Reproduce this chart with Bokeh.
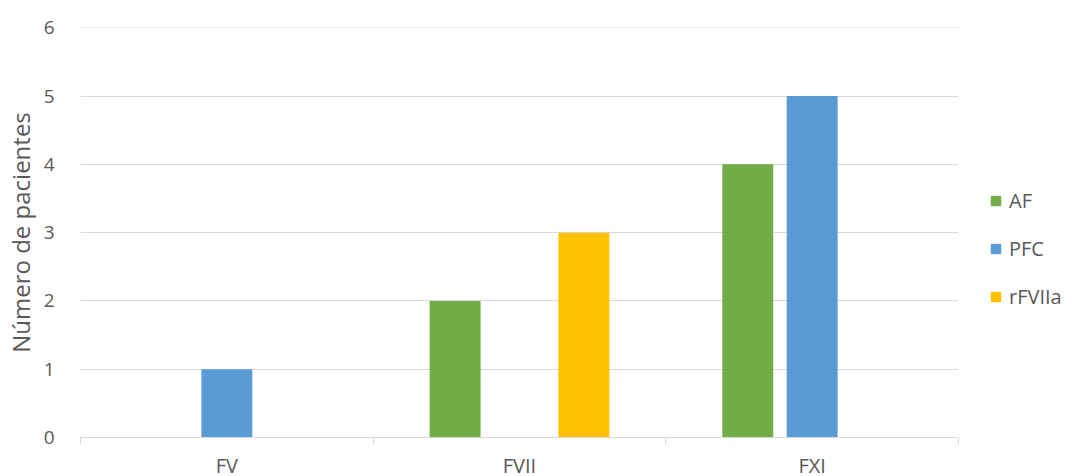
from bokeh.plotting import figure
from bokeh.models import Range1d, FixedTicker, Legend, LegendItem, ColumnDataSource
from bokeh.embed import file_html
from bokeh.resources import INLINE

categories = ["FV", "FVII", "FXI"]
series = ["AF", "PFC", "rFVIIa"]
af = [0, 2, 4]
pfc = [1, 0, 5]
rfviia = [0, 3, 0]
colors = ["#70AD47", "#5B9BD5", "#FFC000"]
offsets = [-0.22, 0.0, 0.22]
FONT = "Open Sans"
GREY = "#595959"

p = figure(frame_width=878, frame_height=410, width=1072, height=476,
           x_range=Range1d(0, 3), y_range=Range1d(0, 6.004),
           output_backend="svg", toolbar_location=None,
           min_border_left=80, min_border_top=27, min_border_bottom=39, min_border_right=10)
p.outline_line_color = None
p.background_fill_color = "white"

items = []
for name, vals, col, off in zip(series, [af, pfc, rfviia], colors, offsets):
    xs = [i + 0.5 + off for i in range(len(categories))]
    src = ColumnDataSource(dict(x=xs, top=vals))
    r = p.vbar(x="x", top="top", width=0.174, source=src, fill_color=col, line_color=None)
    items.append(LegendItem(label=name, renderers=[r]))

legend = Legend(items=items, location=(31, 127))
legend.label_text_font = FONT
legend.label_text_font_size = "20px"
legend.label_text_color = GREY
legend.glyph_width = 13
legend.glyph_height = 13
legend.label_height = 22
legend.spacing = 21
legend.border_line_color = None
legend.background_fill_alpha = 0
legend.padding = 0
legend.margin = 0
legend.label_standoff = 7
p.add_layout(legend, "right")

# x axis
xa = p.xaxis[0]
xa.ticker = FixedTicker(ticks=[0.5, 1.5, 2.5], minor_ticks=[0, 1, 2, 3])
xa.major_label_overrides = {0.5: "FV", 1.5: "FVII", 2.5: "FXI"}
xa.major_tick_line_color = None
xa.major_tick_out = 0
xa.major_tick_in = 0
xa.minor_tick_out = 7
xa.minor_tick_in = 0
xa.minor_tick_line_color = "#d9d9d9"
xa.axis_line_color = "#d9d9d9"
xa.major_label_text_font = FONT
xa.major_label_text_font_size = "20px"
xa.major_label_text_color = GREY
xa.major_label_standoff = 7

# y axis
ya = p.yaxis[0]
ya.ticker = FixedTicker(ticks=[0, 1, 2, 3, 4, 5, 6])
ya.axis_line_color = None
ya.major_tick_line_color = None
ya.minor_tick_line_color = None
ya.major_tick_out = 0
ya.major_tick_in = 0
ya.major_label_text_font = FONT
ya.major_label_text_font_size = "19px"
ya.major_label_text_color = GREY
ya.major_label_standoff = 26
ya.axis_label = "Número de pacientes"
ya.axis_label_text_font = FONT
ya.axis_label_text_font_style = "normal"
ya.axis_label_text_font_size = "24px"
ya.axis_label_text_color = GREY
ya.axis_label_standoff = 4

p.xgrid.grid_line_color = None
p.ygrid.grid_line_color = "#d9d9d9"
p.ygrid.ticker = ya.ticker

open("out.html", "w").write(file_html(p, INLINE))
